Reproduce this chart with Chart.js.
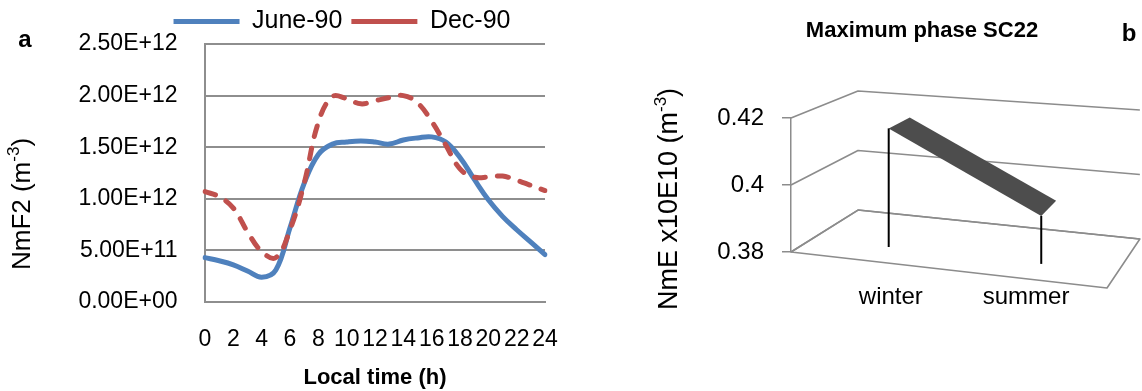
<!DOCTYPE html>
<html><head><meta charset="utf-8">
<script src="https://cdn.jsdelivr.net/npm/chart.js@4.4.1/dist/chart.umd.min.js"></script>
<style>
html,body{margin:0;padding:0;background:#fff;overflow:hidden;width:1142px;height:391px;}
#wa{position:absolute;left:0;top:0;width:684px;height:391px;}
#wb{position:absolute;left:600px;top:0;width:644px;height:391px;}
</style></head><body>
<div id="wa"><canvas id="ca"></canvas></div>
<div id="wb"><canvas id="cb"></canvas></div>
<script>
// ---- data ----
const hours = ['0','1','2','3','4','5','6','7','8','9','10','11','12','13','14','15','16','17','18','19','20','21','22','23','24'];
const hourTickLabels = ['0','2','4','6','8','10','12','14','16','18','20','22','24'];
const june90 = [0.43e12,0.40e12,0.36e12,0.30e12,0.24e12,0.31e12,0.72e12,1.15e12,1.43e12,1.53e12,1.55e12,1.56e12,1.55e12,1.53e12,1.57e12,1.59e12,1.60e12,1.55e12,1.40e12,1.19e12,0.99e12,0.83e12,0.70e12,0.58e12,0.46e12];
const dec90  = [1.07e12,1.02e12,0.91e12,0.68e12,0.49e12,0.43e12,0.70e12,1.15e12,1.74e12,1.99e12,1.97e12,1.92e12,1.95e12,1.98e12,2.00e12,1.93e12,1.75e12,1.52e12,1.29e12,1.21e12,1.21e12,1.22e12,1.18e12,1.13e12,1.08e12];
const seasons = ['winter','summer'];
const nmE = [0.416, 0.394];
const nmETicks = [0.38, 0.40, 0.42];

const titleA = 'Local time (h)';
const titleB = 'Maximum phase SC22';
const yTitleA = [['NmF2 (m',false],['-3',true],[')',false]];
const yTitleB = [['NmE x10E10 (m',false],['-3',true],[')',false]];

const FONT = "'Liberation Sans', Arial, sans-serif";
Chart.defaults.font.family = FONT;
Chart.defaults.color = '#000';

function fmtExp(v){
  const parts = Number(v).toExponential(2).split('e');
  const n = parseInt(parts[1],10);
  return parts[0] + 'E' + (n<0?'-':'+') + String(Math.abs(n)).padStart(2,'0');
}

function drawRotTitle(ctx, cx, cy, parts, size){
  ctx.save();
  ctx.translate(cx, cy);
  ctx.rotate(-Math.PI/2);
  ctx.fillStyle = '#000';
  ctx.textBaseline = 'middle';
  ctx.textAlign = 'left';
  const supSize = Math.round(size*0.64);
  let total = 0;
  parts.forEach(p => { ctx.font = (p[1]?supSize:size) + 'px ' + FONT; total += ctx.measureText(p[0]).width; });
  let x = -total/2;
  parts.forEach(p => {
    ctx.font = (p[1]?supSize:size) + 'px ' + FONT;
    ctx.fillText(p[0], x, p[1] ? -size*0.33 : 0);
    x += ctx.measureText(p[0]).width;
  });
  ctx.restore();
}

// invisible spacer axis on the right, so legend/title centre like the original
function spacerAxis(w){
  return {type:'linear', position:'right', display:true, ticks:{display:false}, grid:{display:false, drawTicks:false}, border:{display:false}, afterFit(s){ s.width = w; }};
}

const decorA = {
  id:'decorA',
  afterDraw(chart){
    const ctx = chart.ctx;
    ctx.save();
    ctx.fillStyle = '#000';
    ctx.font = 'bold 24px ' + FONT;
    ctx.textAlign = 'center'; ctx.textBaseline = 'middle';
    ctx.fillText('a', 25, 40);
    ctx.restore();
    drawRotTitle(ctx, 23, 204, yTitleA, 26);
  }
};

new Chart(document.getElementById('ca'), {
  type:'line',
  data:{ labels: hours, datasets:[
    {label:'June-90', data:june90, borderColor:'#4F81BD', backgroundColor:'#4F81BD', borderWidth:5, pointRadius:0, tension:0.4, order:1, borderCapStyle:'round'},
    {label:'Dec-90', data:dec90, borderColor:'#C0504D', backgroundColor:'#C0504D', borderWidth:5, borderDash:[11,12], borderCapStyle:'round', pointRadius:0, tension:0.4, order:0}
  ]},
  options:{
    responsive:true, maintainAspectRatio:false, animation:false,
    layout:{padding:0},
    plugins:{
      legend:{position:'top', labels:{usePointStyle:true, pointStyle:'line', pointStyleWidth:66, font:{size:25}, padding:9, color:'#000', sort:(a,b)=>a.datasetIndex-b.datasetIndex}},
      tooltip:{enabled:false}
    },
    scales:{
      x:{grid:{display:false}, border:{display:true,color:'#8e8e8e',width:2},
         ticks:{autoSkip:false, maxRotation:0, minRotation:0, font:{size:23}, padding:16, color:'#000',
                callback(v,i){ const l = hours[i]; return hourTickLabels.includes(l) ? l : ''; }},
         title:{display:true, text:titleA, font:{size:22, weight:'bold'}, color:'#000', padding:0},
         afterFit(s){ s.height = 89; }},
      y:{min:0, max:2.5e12, ticks:{stepSize:0.5e12, font:{size:23}, padding:27.5, color:'#000', callback:fmtExp},
         grid:{color:'#8e8e8e', lineWidth:2, drawTicks:false}, border:{color:'#8e8e8e', width:2},
         afterFit(s){ s.width = 205; }},
      yR: spacerAxis(139)
    }
  },
  plugins:[decorA]
});

// ---- pseudo 3D panel b ----
const box3d = {
  id:'box3d',
  afterDraw(chart){
    const ctx = chart.ctx, a = chart.chartArea, xs = chart.scales.x, ys = chart.scales.y;
    const L=a.left, R=a.right, B=a.bottom, T=a.top, W=R-L, H=B-T;
    const FL=[L,B], FR=[R,B+0.114*W], BL=[L+0.212*W,B-0.313*H], BR=[R+0.104*W,B-0.097*H];
    const hFL=H, hFR=1.08*H, hBL=0.888*H, hBR=0.963*H;
    function proj(X,V,Z){
      const w00=(1-X)*(1-Z), w10=X*(1-Z), w01=(1-X)*Z, w11=X*Z;
      const x = FL[0]*w00+FR[0]*w10+BL[0]*w01+BR[0]*w11;
      const yb = FL[1]*w00+FR[1]*w10+BL[1]*w01+BR[1]*w11;
      const h = hFL*w00+hFR*w10+hBL*w01+hBR*w11;
      return [x, yb - V*h];
    }
    const nX = i => (xs.getPixelForValue(i) - L)/W;
    const nV = v => (B - ys.getPixelForValue(v))/H;
    ctx.save();
    // walls
    ctx.strokeStyle = '#8c8c8c'; ctx.lineWidth = 1.6; ctx.lineJoin='round';
    nmETicks.forEach(t => {
      const V = nV(t);
      const p0 = proj(0,V,0), p1 = proj(0,V,1), p2 = proj(1,V,1);
      ctx.beginPath(); ctx.moveTo(p0[0],p0[1]); ctx.lineTo(p1[0],p1[1]); ctx.lineTo(p2[0],p2[1]); ctx.stroke();
    });
    // floor outline
    const f = [proj(0,0,0), proj(1,0,0), proj(1,0,1), proj(0,0,1)];
    ctx.beginPath(); ctx.moveTo(f[0][0],f[0][1]); for (let k=1;k<4;k++) ctx.lineTo(f[k][0],f[k][1]); ctx.closePath(); ctx.stroke();
    // ribbon
    const z1 = 0.32, z2 = 0.68;
    const vals = chart.data.datasets[0].data;
    ctx.fillStyle = '#4d4d4d';
    for (let i=0;i<vals.length-1;i++){
      const X0 = nX(i), X1 = nX(i+1), V0 = nV(vals[i]), V1 = nV(vals[i+1]);
      const q = [proj(X0,V0,z1), proj(X1,V1,z1), proj(X1,V1,z2), proj(X0,V0,z2)];
      ctx.beginPath(); ctx.moveTo(q[0][0],q[0][1]); for (let k=1;k<4;k++) ctx.lineTo(q[k][0],q[k][1]); ctx.closePath(); ctx.fill();
    }
    // drop lines
    ctx.strokeStyle = '#000'; ctx.lineWidth = 2;
    vals.forEach((v,i) => {
      const X = nX(i), top = proj(X,nV(v),z1), bot = proj(X,0,z1);
      ctx.beginPath(); ctx.moveTo(top[0],top[1]); ctx.lineTo(bot[0],bot[1]); ctx.stroke();
    });
    // category labels
    ctx.fillStyle = '#000'; ctx.font = '24px ' + FONT; ctx.textAlign='center'; ctx.textBaseline='middle';
    chart.data.labels.forEach((lab,i) => {
      const X = nX(i);
      ctx.fillText(lab, L + (0.102 + 0.856*X)*W, B + 45);
    });
    // panel letter
    ctx.font = 'bold 24px ' + FONT;
    ctx.fillText('b', 529, 34);
    ctx.restore();
    drawRotTitle(ctx, 70, 199, yTitleB, 27);
  }
};

new Chart(document.getElementById('cb'), {
  type:'line',
  data:{ labels: seasons, datasets:[{label:'NmE', data:nmE, showLine:false, pointRadius:0, borderColor:'#4d4d4d', backgroundColor:'#4d4d4d'}]},
  options:{
    responsive:true, maintainAspectRatio:false, animation:false,
    layout:{padding:{left:0,right:0,top:0,bottom:139}},
    plugins:{
      legend:{display:false}, tooltip:{enabled:false},
      title:{display:true, text:titleB, font:{size:22, weight:'bold'}, color:'#000', padding:{top:18,bottom:73.6}}
    },
    scales:{
      x:{type:'category', display:false, offset:true},
      y:{min:0.38, max:0.42,
         afterBuildTicks(s){ s.ticks = nmETicks.map(v => ({value:v})); },
         ticks:{font:{size:24}, padding:18, color:'#000', callback:v => String(+Number(v).toFixed(2))},
         grid:{drawOnChartArea:false, drawTicks:true, tickLength:9, color:'#8c8c8c', lineWidth:1.5},
         border:{display:true, color:'#8c8c8c', width:1.5},
         afterFit(s){ s.width = 191; }},
      yR: spacerAxis(137)
    }
  },
  plugins:[box3d]
});
</script>
</body></html>
